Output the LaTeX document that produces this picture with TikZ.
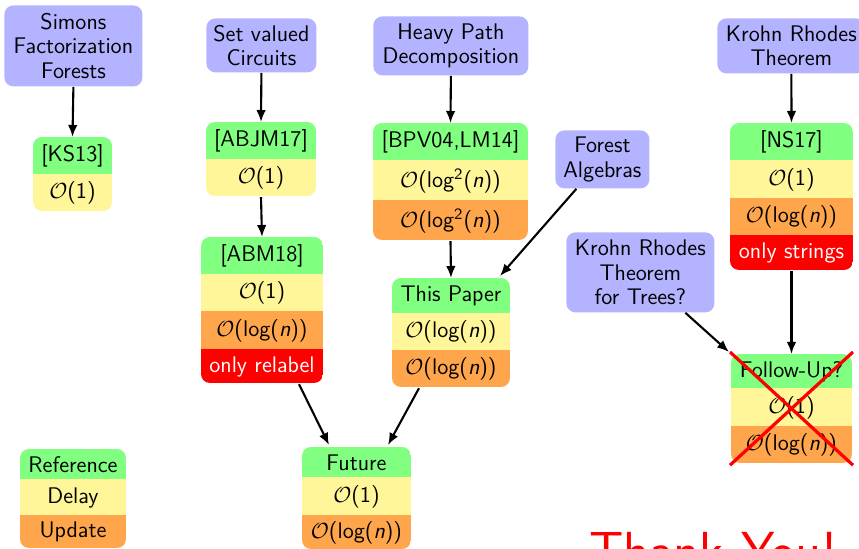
\documentclass[tikz,border=0pt]{standalone}
\usetikzlibrary{arrows.meta}

\definecolor{cpurple}{RGB}{179,179,255}
\definecolor{cgreen}{RGB}{128,255,128}
\definecolor{cyellow}{RGB}{255,245,153}
\definecolor{corange}{RGB}{255,166,77}
\definecolor{cred}{RGB}{255,0,0}

% complexity labels
\newcommand\Oh[1]{$\mathcal{O}$(#1)}
\newcommand\logn{log({\itshape n})}
\newcommand\logsqn{log\textsuperscript{2}({\itshape n})}

% one coloured row of a result panel: name, colour, x, y (top), width, height (px), text
\newcommand\cell[7]{\node[cell,fill=#2,minimum width=#5*0.5pt,minimum height=#6*0.5pt+0.6pt] (#1) at (#3,#4) {#7};}

\tikzset{
  every node/.append style={font=\sffamily\fontsize{11.3}{12.25}\selectfont},
  topic/.style={fill=cpurple, rounded corners=4.5pt, align=center, inner sep=0pt, anchor=north west},
  cell/.style={inner sep=0pt, outer sep=0pt, anchor=north west, align=center},
  arr/.style={-{Latex[length=6pt,width=4.8pt]}, line width=1.05pt},
  cross/.style={cred, line width=1.6pt},
}

\begin{document}
\begin{tikzpicture}[x=0.5pt,y=-0.5pt]
\useasboundingbox (0,0) rectangle (859,549);
\clip (0,0) rectangle (859,549);

% ---- topics ----
\node[topic, minimum width=69pt, minimum height=40.5pt] (sfs) at (4,5) {Simons\\Factorization\\Forests};
\node[topic, minimum width=55pt, minimum height=27pt] (svc) at (206,18) {Set valued\\Circuits};
\node[topic, minimum width=77.5pt, minimum height=29.5pt] (hpd) at (373,16) {Heavy Path\\Decomposition};
\node[topic, minimum width=47pt, minimum height=29pt] (fa) at (555,130) {Forest\\Algebras};
\node[topic, minimum width=74pt, minimum height=27.5pt] (krt) at (717,18) {Krohn Rhodes\\Theorem};
\node[topic, minimum width=74pt, minimum height=40pt] (krtt) at (566,232) {Krohn Rhodes\\Theorem\\for Trees?};

% ---- [KS13] ----
\begin{scope}
  \clip[rounded corners=4.5pt] (33,137) rectangle (112,211);
  \cell{ks-r}{cgreen}{33}{137}{79}{37}{[KS13]}
  \cell{ks-d}{cyellow}{33}{174}{79}{37}{\Oh{1}}
\end{scope}

% ---- [ABJM17] ----
\begin{scope}
  \clip[rounded corners=4.5pt] (206,122) rectangle (316,196);
  \cell{abjm-r}{cgreen}{206}{122}{110}{37}{[ABJM17]}
  \cell{abjm-d}{cyellow}{206}{159}{110}{37}{\Oh{1}}
\end{scope}

% ---- [ABM18] ----
\begin{scope}
  \clip[rounded corners=4.5pt] (201,237) rectangle (323,383);
  \cell{abm-r}{cgreen}{201}{237}{122}{37}{[ABM18]}
  \cell{abm-d}{cyellow}{201}{274}{122}{37}{\Oh{1}}
  \cell{abm-u}{corange}{201}{311}{122}{38}{\Oh{\logn}}
  \cell{abm-x}{cred}{201}{349}{122}{34}{\color{white}only relabel}
\end{scope}

% ---- [BPV04,LM14] ----
\begin{scope}
  \clip[rounded corners=4.5pt] (373,123) rectangle (528,240);
  \cell{bpv-r}{cgreen}{373}{123}{155}{37}{[BPV04,LM14]}
  \cell{bpv-d}{cyellow}{373}{160}{155}{40}{\Oh{\logsqn}}
  \cell{bpv-u}{corange}{373}{200}{155}{40}{\Oh{\logsqn}}
\end{scope}

% ---- This Paper ----
\begin{scope}
  \clip[rounded corners=4.5pt] (392,278) rectangle (510,387);
  \cell{tp-r}{cgreen}{392}{278}{118}{35}{This Paper}
  \cell{tp-d}{cyellow}{392}{313}{118}{37}{\Oh{\logn}}
  \cell{tp-u}{corange}{392}{350}{118}{37}{\Oh{\logn}}
\end{scope}

% ---- Future ----
\begin{scope}
  \clip[rounded corners=4.5pt] (302,447) rectangle (411,549);
  \cell{fut-r}{cgreen}{302}{447}{109}{30}{Future}
  \cell{fut-d}{cyellow}{302}{477}{109}{38}{\Oh{1}}
  \cell{fut-u}{corange}{302}{515}{109}{34}{\Oh{\logn}}
\end{scope}

% ---- [NS17] ----
\begin{scope}
  \clip[rounded corners=4.5pt] (730,123) rectangle (853,270);
  \cell{ns-r}{cgreen}{730}{123}{123}{37}{[NS17]}
  \cell{ns-d}{cyellow}{730}{160}{123}{38}{\Oh{1}}
  \cell{ns-u}{corange}{730}{198}{123}{37}{\Oh{\logn}}
  \cell{ns-x}{cred}{730}{235}{123}{35}{\color{white}only strings}
\end{scope}

% ---- Follow-Up? ----
\begin{scope}
  \clip[rounded corners=4.5pt] (731,354) rectangle (852,463);
  \cell{fu-r}{cgreen}{731}{354}{121}{34}{Follow-Up?}
  \cell{fu-d}{cyellow}{731}{388}{121}{38}{\Oh{1}}
  \cell{fu-u}{corange}{731}{426}{121}{37}{\Oh{\logn}}
\end{scope}

% ---- legend ----
\begin{scope}
  \clip[rounded corners=4.5pt] (20,449) rectangle (126,548);
  \cell{lg-r}{cgreen}{20}{449}{106}{30}{Reference}
  \cell{lg-d}{cyellow}{20}{479}{106}{36}{Delay}
  \cell{lg-u}{corange}{20}{515}{106}{33}{Update}
\end{scope}

% ---- connectors ----
\draw[arr] (sfs.south) -- (ks-r.north);
\draw[arr] (svc.south) -- (abjm-r.north);
\draw[arr] (abjm-d.south) -- (abm-r.north);
\draw[arr] (hpd.south) -- (bpv-r.north);
\draw[arr] (bpv-u.south) -- (tp-r.north);
\draw[arr] ([xshift=-13pt]fa.south) -- ([shift={(-5pt,1pt)}]tp-r.north east);
\draw[arr] ([xshift=18.5pt]abm-x.south) -- ([shift={(-13.75pt,1pt)}]fut-r.north);
\draw[arr] ([xshift=-16pt]tp-u.south) -- ([shift={(15.75pt,1pt)}]fut-r.north);
\draw[arr] (krt.south) -- (ns-r.north);
\draw[arr] (ns-x.south) -- (fu-r.north);
\draw[arr] ([xshift=22.5pt]krtt.south) -- ([shift={(-1pt,1pt)}]fu-r.north west);

% ---- crossed-out follow-up ----
\draw[cross] ([shift={(-0.5pt,1pt)}]fu-r.north west) -- ([shift={(0.5pt,-0.5pt)}]fu-u.south east);
\draw[cross] ([shift={(0.5pt,1pt)}]fu-r.north east) -- ([shift={(-0.5pt,-0.5pt)}]fu-u.south west);

% ---- closing words ----
\node[font=\sffamily\fontsize{26.8}{32}\selectfont, text=cred, anchor=base west, inner sep=0pt] (ty) at (589,570) {Thank You!};
\end{tikzpicture}
\end{document}
